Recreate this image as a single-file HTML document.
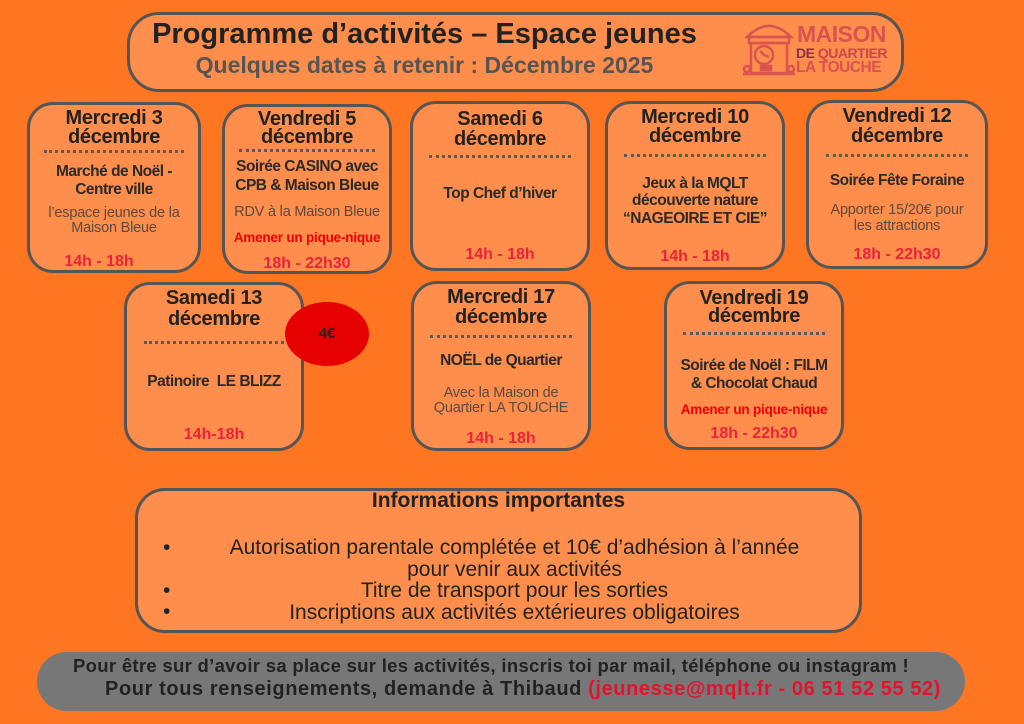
<!DOCTYPE html>
<html><head><meta charset="utf-8"><style>
*{margin:0;padding:0;box-sizing:border-box}
body{width:1024px;height:724px;background:#ff7622;position:relative;overflow:hidden;font-family:"Liberation Sans",sans-serif;color:#2a2a2a}
.b{position:absolute;background:#ff8d4b;border:3px solid #555;border-radius:26px}
.l{position:absolute;left:-10px;right:-10px;text-align:center;height:22px;line-height:22px;transform:translateY(-50%);white-space:nowrap}
.t{font-weight:bold;font-size:20px;color:#222;letter-spacing:-0.3px}
.m{font-size:15.5px;color:#2a2a2a;font-weight:bold;letter-spacing:-0.5px}
.g{font-size:14.5px;color:#5a4a40;letter-spacing:-0.2px}
.r{font-size:16px;color:#e8233a;font-weight:bold}
.a{font-size:13.5px;color:#e00;font-weight:bold;letter-spacing:-0.2px}
.d{position:absolute;left:50%;transform:translateX(-50%);height:0;border-top:3px dotted #5a5a5a}
</style></head><body>

<div class="b" style="left:127px;top:12px;width:777px;height:80px;border-radius:32px">
  <div class="l" style="top:19px;left:-2px;right:180px;font-size:29px;height:32px;line-height:32px;font-weight:bold;color:#222">Programme d’activités – Espace jeunes</div>
  <div class="l" style="top:50px;left:-2px;right:180px;font-size:23px;height:28px;line-height:28px;font-weight:bold;color:#555">Quelques dates à retenir : Décembre 2025</div>
  <svg style="position:absolute;left:611px;top:4px" width="56" height="58" viewBox="0 0 56 58" fill="none" stroke="#d9534f" stroke-width="2.5">
    <path d="M6 18 Q28 -4 50 18 Z"/><rect x="8" y="18" width="40" height="6"/><rect x="10" y="24" width="36" height="30"/>
    <circle cx="23" cy="36" r="9"/><path d="M23 36 l-4 -4 M23 36 l5 2"/><rect x="20" y="47" width="10" height="4" fill="#d9534f"/>
    <circle cx="6" cy="50" r="3"/><circle cx="50" cy="50" r="3"/><path d="M2 55 H54"/>
  </svg>
  <div style="position:absolute;left:667px;top:8px;color:#d9534f;font-weight:bold;font-size:23px;line-height:22px;letter-spacing:-0.5px">MAISON</div>
  <div style="position:absolute;left:666px;top:31px;color:#c8474a;font-weight:bold;font-size:14px;line-height:14px;letter-spacing:-0.5px"><span style="color:#8a3050">DE</span> QUARTIER</div>
  <div style="position:absolute;left:666px;top:45px;color:#d9534f;font-weight:bold;font-size:15.5px;line-height:15px;letter-spacing:-0.5px">LA TOUCHE</div>
</div>

<div class="b" style="left:27px;top:102px;width:174px;height:171px">
  <div class="l t" style="top:13px">Mercredi 3</div><div class="l t" style="top:32px">décembre</div>
  <div class="d" style="top:45px;width:140px"></div>
  <div class="l m" style="top:67px">Marché de Noël -</div><div class="l m" style="top:85px">Centre ville</div>
  <div class="l g" style="top:108px">l’espace jeunes de la</div><div class="l g" style="top:123px">Maison Bleue</div>
  <div class="l r" style="top:157px;right:20px">14h - 18h</div>
</div>

<div class="b" style="left:222px;top:104px;width:170px;height:170px">
  <div class="l t" style="top:12px">Vendredi 5</div><div class="l t" style="top:30px">décembre</div>
  <div class="d" style="top:42px;width:136px"></div>
  <div class="l m" style="top:60px">Soirée CASINO avec</div><div class="l m" style="top:79px">CPB &amp; Maison Bleue</div>
  <div class="l g" style="top:105px">RDV à la Maison Bleue</div>
  <div class="l a" style="top:131px">Amener un pique-nique</div>
  <div class="l r" style="top:157px">18h - 22h30</div>
</div>

<div class="b" style="left:410px;top:101px;width:180px;height:170px">
  <div class="l t" style="top:15px">Samedi 6</div><div class="l t" style="top:35px">décembre</div>
  <div class="d" style="top:51px;width:142px"></div>
  <div class="l m" style="top:90px">Top Chef d’hiver</div>
  <div class="l r" style="top:151px">14h - 18h</div>
</div>

<div class="b" style="left:605px;top:101px;width:180px;height:169px">
  <div class="l t" style="top:13px">Mercredi 10</div><div class="l t" style="top:32px">décembre</div>
  <div class="d" style="top:50px;width:142px"></div>
  <div class="l m" style="top:80px">Jeux à la MQLT</div><div class="l m" style="top:97px">découverte nature</div><div class="l m" style="top:115px">“NAGEOIRE ET CIE”</div>
  <div class="l r" style="top:153px">14h - 18h</div>
</div>

<div class="b" style="left:806px;top:100px;width:182px;height:169px">
  <div class="l t" style="top:13px">Vendredi 12</div><div class="l t" style="top:33px">décembre</div>
  <div class="d" style="top:51px;width:142px"></div>
  <div class="l m" style="top:78px">Soirée Fête Foraine</div>
  <div class="l g" style="top:107px">Apporter 15/20€ pour</div><div class="l g" style="top:123px">les attractions</div>
  <div class="l r" style="top:152px">18h - 22h30</div>
</div>

<div class="b" style="left:124px;top:282px;width:180px;height:169px">
  <div class="l t" style="top:13px">Samedi 13</div><div class="l t" style="top:34px">décembre</div>
  <div class="d" style="top:56px;width:140px"></div>
  <div class="l m" style="top:97px">Patinoire&nbsp; LE BLIZZ</div>
  <div class="l r" style="top:150px">14h-18h</div>
</div>
<div style="position:absolute;left:285px;top:302px;width:84px;height:64px;border-radius:50%;background:#e60000;text-align:center;line-height:64px;font-weight:bold;font-size:15px;color:#222">4€</div>

<div class="b" style="left:411px;top:281px;width:180px;height:170px">
  <div class="l t" style="top:13px">Mercredi 17</div><div class="l t" style="top:33px">décembre</div>
  <div class="d" style="top:51px;width:142px"></div>
  <div class="l m" style="top:77px">NOËL de Quartier</div>
  <div class="l g" style="top:109px">Avec la Maison de</div><div class="l g" style="top:124px">Quartier LA TOUCHE</div>
  <div class="l r" style="top:155px">14h - 18h</div>
</div>

<div class="b" style="left:664px;top:281px;width:180px;height:169px">
  <div class="l t" style="top:14px">Vendredi 19</div><div class="l t" style="top:32px">décembre</div>
  <div class="d" style="top:48px;width:142px"></div>
  <div class="l m" style="top:82px">Soirée de Noël : FILM</div><div class="l m" style="top:100px">&amp; Chocolat Chaud</div>
  <div class="l a" style="top:126px">Amener un pique-nique</div>
  <div class="l r" style="top:150px">18h - 22h30</div>
</div>

<div class="b" style="left:135px;top:488px;width:727px;height:145px;border-radius:30px">
  <div class="l" style="top:10px;font-size:21px;font-weight:bold;color:#222">Informations importantes</div>
  <div style="position:absolute;left:0;right:0;top:46px;font-size:21px;color:#222;line-height:21.5px">
    <div style="position:absolute;left:25px;top:0">•</div>
    <div style="position:absolute;left:25px;top:43px">•</div>
    <div style="position:absolute;left:25px;top:64px">•</div>
    <div style="text-align:center;padding-left:32px">Autorisation parentale complétée et 10€ d’adhésion à l’année<br>pour venir aux activités<br>Titre de transport pour les sorties<br>Inscriptions aux activités extérieures obligatoires</div>
  </div>
</div>

<div style="position:absolute;left:37px;top:652px;width:928px;height:59px;background:#777;border-radius:30px">
  <div style="position:absolute;left:-20px;right:0;top:3px;text-align:center;font-size:18.5px;font-weight:bold;color:#222;letter-spacing:0.3px;white-space:nowrap">Pour être sur d’avoir sa place sur les activités, inscris toi par mail, téléphone ou instagram !</div>
  <div style="position:absolute;left:68px;top:26px;font-size:20px;font-weight:bold;color:#222;white-space:nowrap;letter-spacing:0.6px">Pour tous renseignements, demande à Thibaud <span style="color:#e8102a">(jeunesse@mqlt.fr - 06 51 52 55 52)</span></div>
</div>
</body></html>
